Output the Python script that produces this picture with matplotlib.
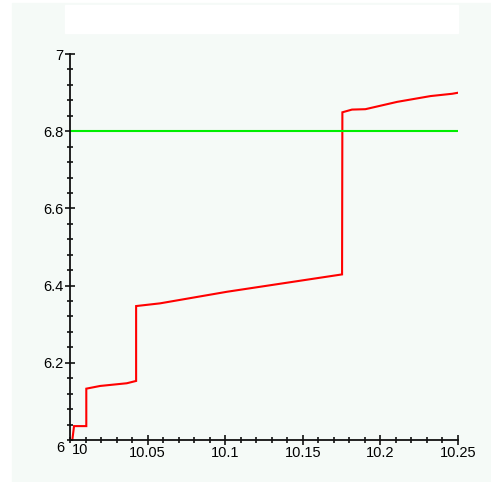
import numpy as np
import matplotlib.pyplot as plt
from matplotlib.patches import Rectangle
from matplotlib.ticker import MultipleLocator, FixedFormatter, FixedLocator

plt.rcParams['font.family'] = ['Liberation Sans', 'DejaVu Sans']

# --- data ---
curve_x = [10.0015, 10.0026, 10.0105, 10.0105, 10.0194, 10.0366, 10.0426,
           10.0426, 10.058, 10.1011, 10.1753,
           10.1755, 10.1817, 10.1903, 10.2108, 10.2323, 10.2463, 10.2505]
curve_y = [6.000, 6.036, 6.036, 6.133, 6.140, 6.147, 6.153,
           6.347, 6.354, 6.384, 6.429,
           6.849, 6.856, 6.857, 6.876, 6.891, 6.897, 6.900]
level = 6.8
x_ticks = [10.05, 10.1, 10.15, 10.2, 10.25]
x_labels = ['10.05', '10.1', '10.15', '10.2', '10.25']
y_ticks = [6.2, 6.4, 6.6, 6.8, 7.0]
y_labels = ['6.2', '6.4', '6.6', '6.8', '7']

fig = plt.figure(figsize=(4.91, 4.82), dpi=100)
fig.patch.set_facecolor('white')
# light panel behind the plot, white strip at the top (empty title area)
fig.patches.append(Rectangle((12 / 491, 0), 1 - 12 / 491, 1 - 3 / 482,
                             transform=fig.transFigure, color='#f5faf7', zorder=-2))
fig.patches.append(Rectangle((65 / 491, 1 - 33 / 482), 393 / 491, 28 / 482,
                             transform=fig.transFigure, color='white', zorder=-1))

ax = fig.add_axes([70 / 491, 42 / 482, 388 / 491, 386 / 482])
ax.patch.set_alpha(0)

ax.plot(curve_x, curve_y, color='red', lw=1.5, solid_joinstyle='miter')
ax.plot([10.0, 10.25], [level, level], color='#00ee00', lw=1.5)

ax.set_xlim(10.0, 10.25)
ax.set_ylim(6.0, 7.0)

for s in ['top', 'right']:
    ax.spines[s].set_visible(False)
for s in ['left', 'bottom']:
    ax.spines[s].set_linewidth(1.3)
    ax.spines[s].set_color('#111111')

ax.xaxis.set_major_locator(FixedLocator(x_ticks))
ax.xaxis.set_major_formatter(FixedFormatter(x_labels))
ax.xaxis.set_minor_locator(MultipleLocator(0.01))
ax.yaxis.set_major_locator(FixedLocator(y_ticks))
ax.yaxis.set_major_formatter(FixedFormatter(y_labels))
ax.yaxis.set_minor_locator(MultipleLocator(0.04))

ax.tick_params(which='major', direction='inout', length=7, width=1.2,
               labelsize=10.5, pad=1, color='#111111')
ax.tick_params(which='minor', direction='inout', length=5, width=1.2, color='#111111')

# corner labels, placed like in the original
ax.annotate('6', xy=(10.0, 6.0), xytext=(-7, -6), textcoords='offset points',
            fontsize=10.5, ha='center', va='center')
ax.annotate('10', xy=(10.0, 6.0), xytext=(7.2, -7.5), textcoords='offset points',
            fontsize=10.5, ha='center', va='center')

plt.savefig('out.png', dpi=100)
